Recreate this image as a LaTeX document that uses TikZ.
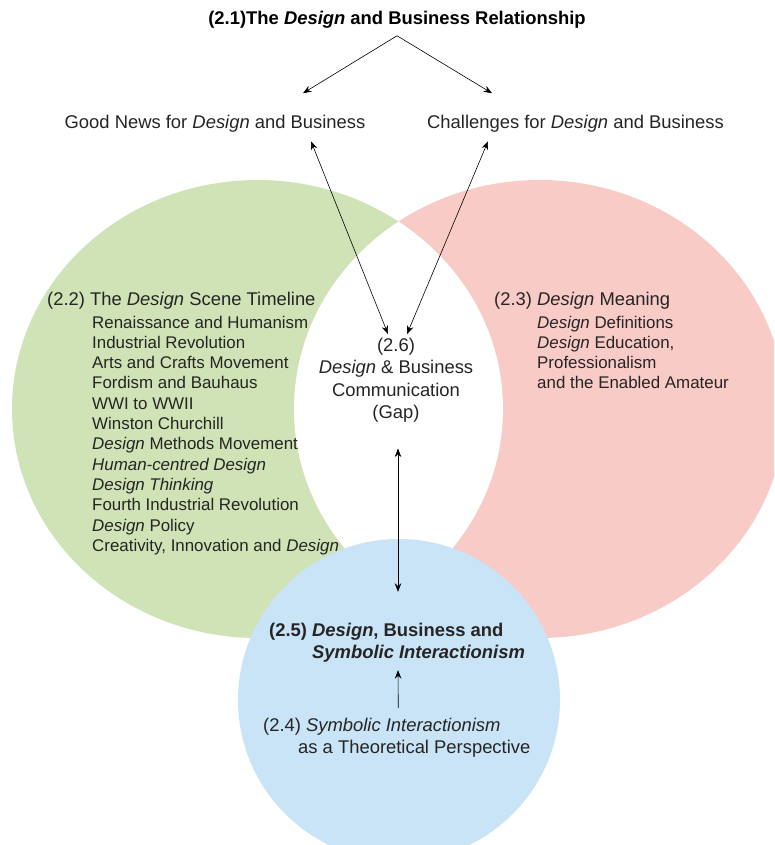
\documentclass[tikz,border=0pt]{standalone}
\usepackage{fontspec}
\setmainfont{Liberation Sans}
\usetikzlibrary{arrows.meta}
\definecolor{timelinegreen}{RGB}{207,227,182}
\definecolor{meaningpink}{RGB}{248,203,199}
\definecolor{symbolicblue}{RGB}{200,228,246}
\definecolor{labelgray}{RGB}{38,36,36}

\begin{document}
\begin{tikzpicture}[
  x=1pt, y=-1pt,
  every node/.style={inner sep=1pt, text=labelgray, font=\fontsize{18.4}{22.3}\selectfont},
  headfont/.style={font=\fontsize{18.4}{22.3}\selectfont\bfseries, text=black},
  itemfont/.style={font=\fontsize{16.9}{20.3}\selectfont},
  arr/.style={line width=0.6pt, -{Stealth[length=8.5pt,width=6.5pt]}},
  biarr/.style={line width=0.6pt, {Stealth[length=8.5pt,width=6.5pt]}-{Stealth[length=8.5pt,width=6.5pt]}}
]
  \useasboundingbox (0,0) rectangle (774,845);
  \clip (0,0) rectangle (774,845);

  \fill[timelinegreen] (257.5,409) ellipse [x radius=245.5, y radius=229];
  \fill[meaningpink] (539.5,409) ellipse [x radius=245.5, y radius=229];
  \begin{scope}
    \clip (257.5,409) ellipse [x radius=245.5, y radius=229];
    \fill[white] (539.5,409) ellipse [x radius=245.5, y radius=229];
  \end{scope}
  \fill[symbolicblue] (399,700) circle [radius=161];

  \node[headfont] (relationship) at (397,20) {(2.1)The \textit{Design} and Business Relationship};
  \node (goodnews) at (215,124) {Good News for \textit{Design} and Business};
  \node (challenges) at (575.5,124) {Challenges for \textit{Design} and Business};

  \node[anchor=base west] (timeline) at (46,305.6) {(2.2) The \textit{Design} Scene Timeline};
  \node[itemfont, anchor=base west, align=left] (eras) at (91,551.3) {%
    Renaissance and Humanism\\
    Industrial Revolution\\
    Arts and Crafts Movement\\
    Fordism and Bauhaus\\
    WWI to WWII\\
    Winston Churchill\\
    \textit{Design} Methods Movement\\
    \textit{Human-centred Design}\\
    \textit{Design Thinking}\\
    Fourth Industrial Revolution\\
    \textit{Design} Policy\\
    Creativity, Innovation and \textit{Design}};

  \node[anchor=base west] (meaning) at (493,305.6) {(2.3) \textit{Design} Meaning};
  \node[itemfont, anchor=base west, align=left] (definitions) at (536,388.9) {%
    \textit{Design} Definitions\\
    \textit{Design} Education,\\
    Professionalism\\
    and the Enabled Amateur};

  \node[anchor=base, align=center] (gap) at (396,418.5) {(2.6)\\
    \textit{Design} \& Business\\
    Communication\\
    (Gap)};

  \node[headfont, text=labelgray, anchor=base west, align=left] (symbolic) at (268,658.6) {%
    (2.5) \textit{Design}, Business and\\
    \hspace*{43pt}\textit{Symbolic Interactionism}};
  \node[anchor=base west, align=left] (perspective) at (262,753.6) {%
    (2.4) \textit{Symbolic Interactionism}\\
    \hspace*{35pt}as a Theoretical Perspective};

  \draw[arr] ([yshift=-6pt]relationship.south) -- ([xshift=88pt,yshift=21pt]goodnews.north);
  \draw[arr] ([yshift=-6pt]relationship.south) -- ([xshift=-83.5pt,yshift=21pt]challenges.north);
  \draw[biarr] ([xshift=96pt,yshift=-7.5pt]goodnews.south) -- ([xshift=-8pt,yshift=3pt]gap.north);
  \draw[biarr] ([xshift=-87.5pt,yshift=-7.5pt]challenges.south) -- ([xshift=11pt,yshift=3pt]gap.north);
  \draw[biarr, shorten <=25pt, shorten >=30pt] ([xshift=2pt]gap.south) -- ([xshift=2pt]gap.south |- symbolic.north);
  \draw[arr] ([xshift=1.5pt,yshift=9pt]perspective.north) -- ([xshift=1pt,yshift=-6.5pt]symbolic.south);
\end{tikzpicture}
\end{document}
